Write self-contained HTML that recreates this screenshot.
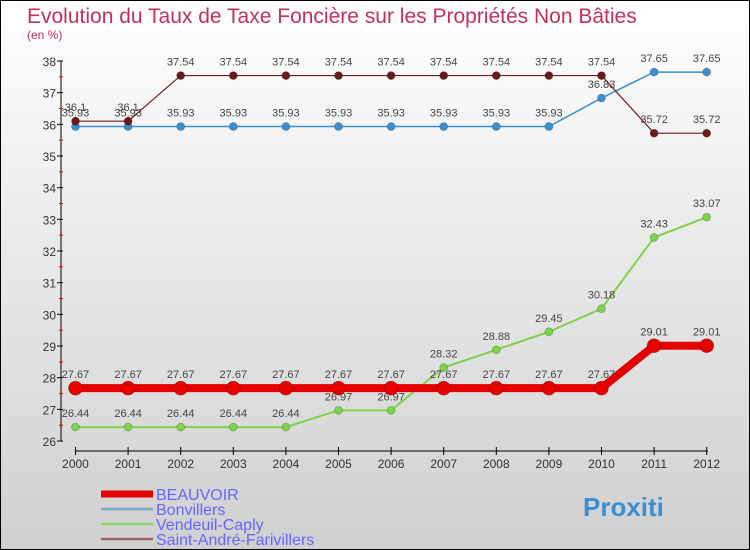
<!DOCTYPE html>
<html><head><meta charset="utf-8"><style>
body{margin:0}
#c{width:748px;height:548px;border:1px solid #000;background:linear-gradient(#fff,#d0d0d0);position:relative;overflow:hidden}
text{font-family:"Liberation Sans",sans-serif}
</style></head><body>
<div id="c">
<svg id="s" width="748" height="548" xmlns="http://www.w3.org/2000/svg">
<text x="26" y="22" font-size="21" fill="#c0315f">Evolution du Taux de Taxe Foncière sur les Propriétés Non Bâties</text>
<text x="26" y="38" font-size="12" fill="#c0315f">(en %)</text>
<g id="g"></g>
</svg>
</div>
<script>
const years=[2000,2001,2002,2003,2004,2005,2006,2007,2008,2009,2010,2011,2012];
const beauvoir=[27.67,27.67,27.67,27.67,27.67,27.67,27.67,27.67,27.67,27.67,27.67,29.01,29.01];
const bonvillers=[35.93,35.93,35.93,35.93,35.93,35.93,35.93,35.93,35.93,35.93,36.83,37.65,37.65];
const vendeuil=[26.44,26.44,26.44,26.44,26.44,26.97,26.97,28.32,28.88,29.45,30.18,32.43,33.07];
const saintAndre=[36.1,36.1,37.54,37.54,37.54,37.54,37.54,37.54,37.54,37.54,37.54,35.72,35.72];
const yTicks=[26,27,28,29,30,31,32,33,34,35,36,37,38];
const seriesNames=["BEAUVOIR","Bonvillers","Vendeuil-Caply","Saint-André-Farivillers"];
const NS="http://www.w3.org/2000/svg";
const g=document.getElementById('g');
const X=i=>74.5+i*52.6;
const Y=v=>60+(38-v)*31.67;
function el(t,a,p){const e=document.createElementNS(NS,t);for(const k in a)e.setAttribute(k,a[k]);(p||g).appendChild(e);return e;}
// axes
let ya=el('line',{x1:60,y1:60,x2:60,y2:440,stroke:'#000','stroke-width':1});


yTicks.forEach(t=>{
  el('line',{x1:56,x2:62,y1:Y(t),y2:Y(t),stroke:'#000'});
  if(t<38)el('line',{x1:58,x2:62,y1:Y(t+0.5),y2:Y(t+0.5),stroke:'#e00'});
  const tx=el('text',{x:55,y:Y(t)+5,'font-size':12,'text-anchor':'end',fill:'#333'});tx.textContent=t;
  
  
});
let xa=el('line',{x1:74,y1:450,x2:707,y2:450,stroke:'#000'});


years.forEach((y,i)=>{
  el('line',{x1:X(i),x2:X(i),y1:446,y2:454,stroke:'#000'});
  const tx=el('text',{x:X(i),y:467,'font-size':12,'text-anchor':'middle',fill:'#333'});tx.textContent=y;
  
  
});
function series(data,color,w,r,name,labels){
  const pl=el('polyline',{points:data.map((v,i)=>X(i)+','+Y(v)).join(' '),fill:'none',stroke:color,'stroke-width':w});
  
  
  data.forEach((v,i)=>{
    const c=el('circle',{cx:X(i),cy:Y(v),r:r,fill:color,stroke:'rgba(0,0,0,0.3)','stroke-width':0.6});
    
    
    if(labels){const t=el('text',{x:X(i),y:Y(v)-10,'font-size':11,'text-anchor':'middle',fill:'#444'});t.textContent=v;
    
    }
  });
}
series(vendeuil,'#7fd24b',2,4,'vendeuil-caply',true);
series(bonvillers,'#3a8fd0',1.5,4,'bonvillers',true);
series(saintAndre,'#6b1a1a',1.2,4,'saint-andre-farivillers',true);
series(beauvoir,'#e60000',8,7,'beauvoir',true);
// legend
const lc=['#e60000','#7aa9cc','#8ed46b','#9a6a6a'];
const lw=[7,2.5,2.5,2.5];
seriesNames.forEach((n,i)=>{
  const y=493+i*15;
  const l=el('line',{x1:100,x2:152,y1:y,y2:y,stroke:lc[i],'stroke-width':lw[i]});
  
  
  const t=el('text',{x:155,y:y+6,'font-size':16,fill:'#6666ff'});t.textContent=n;
  
  
});
const br=el('text',{x:582,y:515,'font-size':26,'font-weight':'bold',fill:'#3a8fd0'});br.textContent='Proxiti';


</script>
</body></html>
